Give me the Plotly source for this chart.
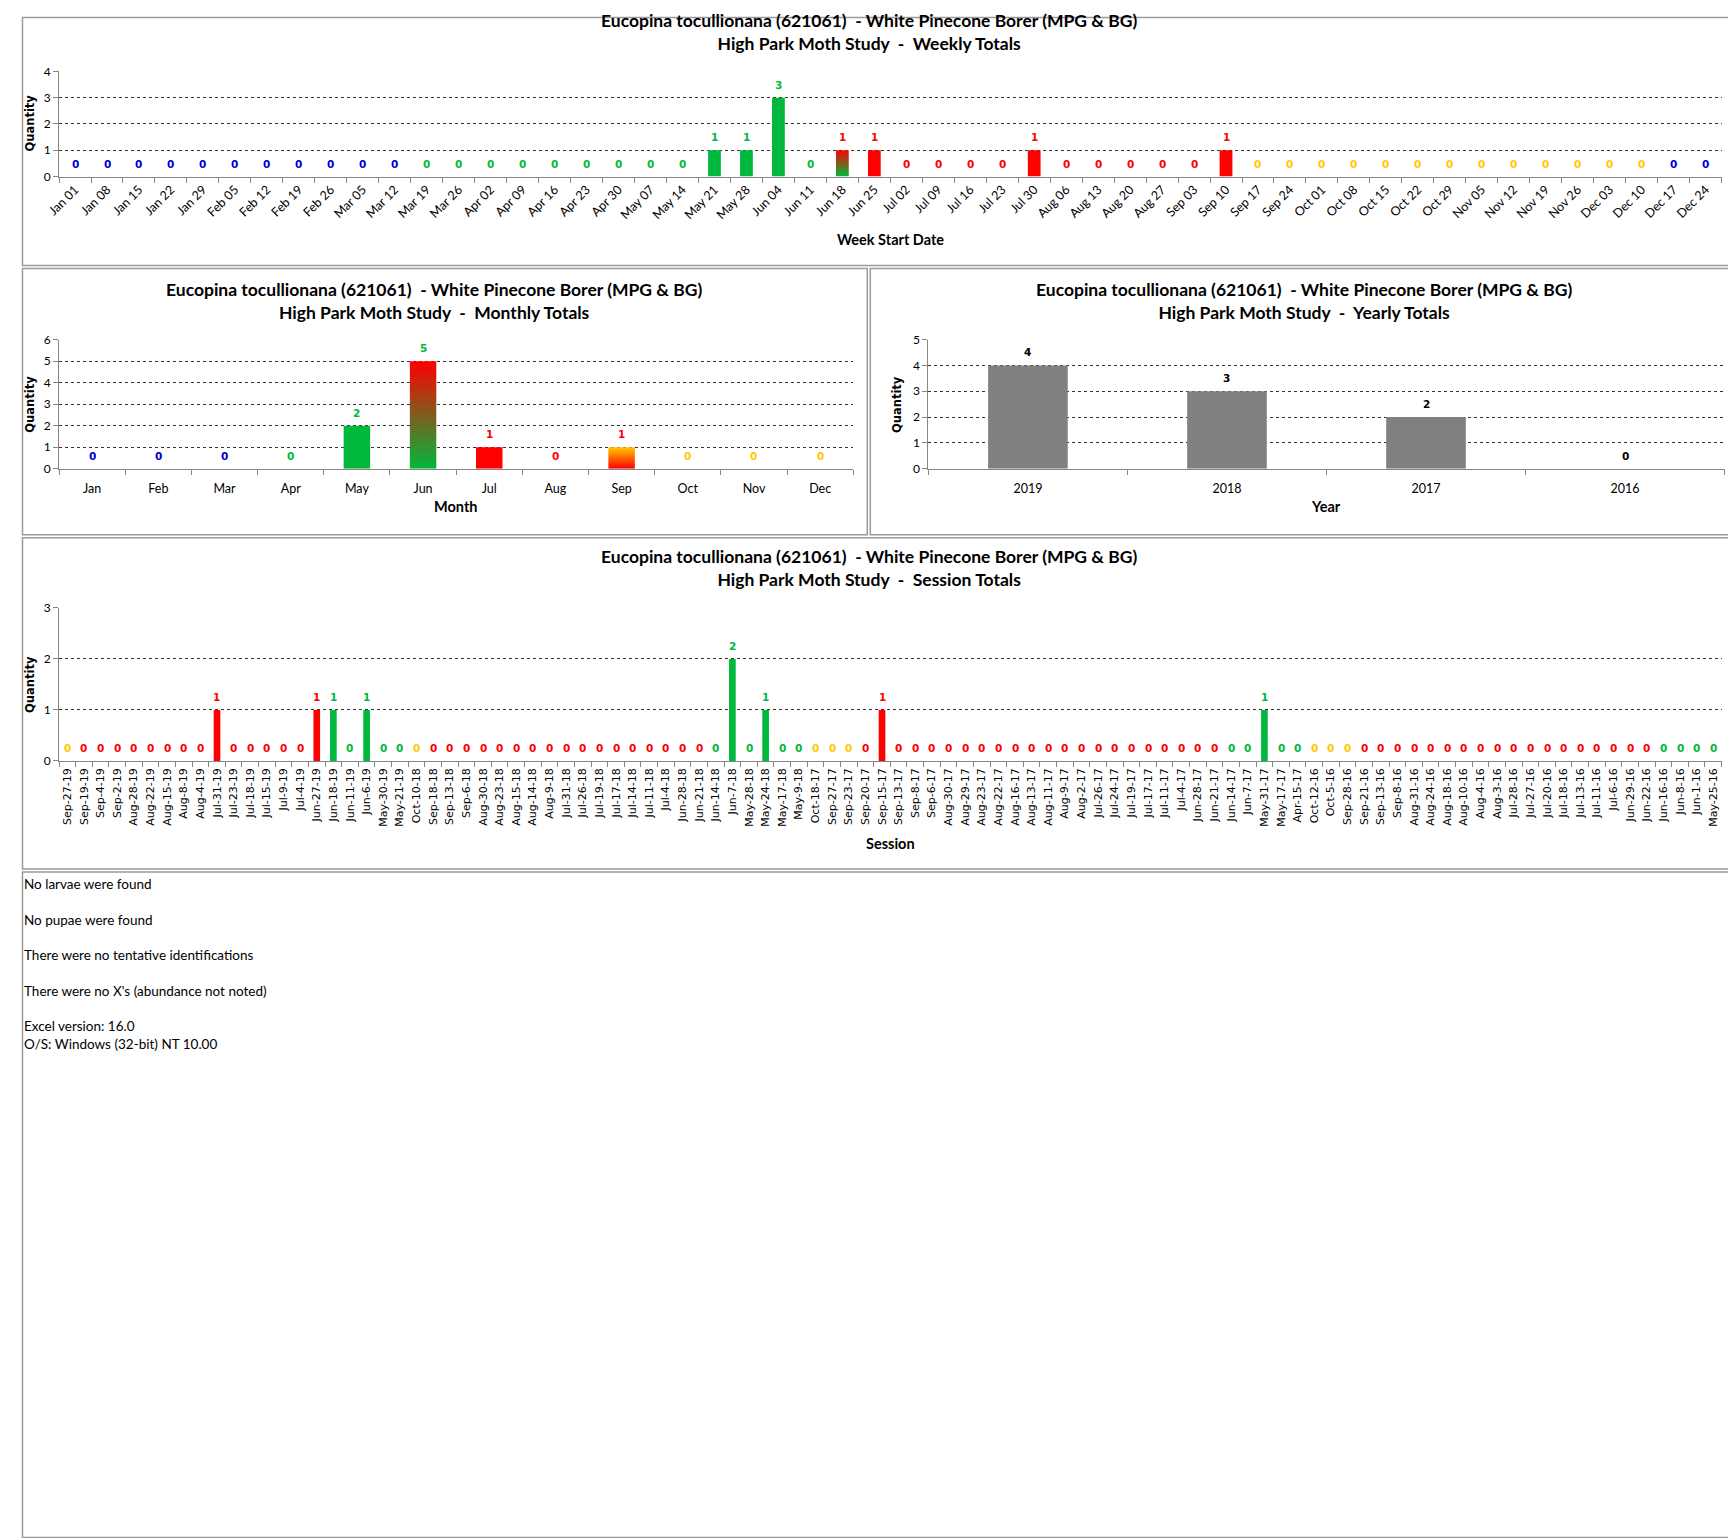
import plotly.graph_objects as go

W, H = 1736, 1538
# the page shows the figure slightly shifted and shrunk; reference pixels are mapped through this
OX, SX = 21.0, 0.991
OY, SY = 16.6, 0.9895

# ---------------- data ----------------
week_labels = ["Jan 01", "Jan 08", "Jan 15", "Jan 22", "Jan 29", "Feb 05", "Feb 12", "Feb 19", "Feb 26",
               "Mar 05", "Mar 12", "Mar 19", "Mar 26", "Apr 02", "Apr 09", "Apr 16", "Apr 23", "Apr 30",
               "May 07", "May 14", "May 21", "May 28", "Jun 04", "Jun 11", "Jun 18", "Jun 25", "Jul 02",
               "Jul 09", "Jul 16", "Jul 23", "Jul 30", "Aug 06", "Aug 13", "Aug 20", "Aug 27", "Sep 03",
               "Sep 10", "Sep 17", "Sep 24", "Oct 01", "Oct 08", "Oct 15", "Oct 22", "Oct 29", "Nov 05",
               "Nov 12", "Nov 19", "Nov 26", "Dec 03", "Dec 10", "Dec 17", "Dec 24"]
week_values = [0, 0, 0, 0, 0, 0, 0, 0, 0, 0, 0, 0, 0, 0, 0, 0, 0, 0, 0, 0,
               1, 1, 3, 0, 1, 1, 0, 0, 0, 0, 1, 0, 0, 0, 0, 0, 1,
               0, 0, 0, 0, 0, 0, 0, 0, 0, 0, 0, 0, 0, 0, 0]
# colour code per week (B blue, G green, R red, Y yellow)
week_codes = "BBBBBBBBBBB" "GGGGGGGGGGGGG" "RRRRRRRRRRRRR" "YYYYYYYYYYYYY" "BB"
week_gradients = {"Jun 18": ("G", "R")}

month_labels = ["Jan", "Feb", "Mar", "Apr", "May", "Jun", "Jul", "Aug", "Sep", "Oct", "Nov", "Dec"]
month_values = [0, 0, 0, 0, 2, 5, 1, 0, 1, 0, 0, 0]
month_codes = "BBBGGGRRRYYY"
month_gradients = {"Jun": ("G", "R"), "Sep": ("R", "Y")}

year_labels = ["2019", "2018", "2017", "2016"]
year_values = [4, 3, 2, 0]
year_codes = "KKKK"

session_labels = [
    "Sep-27-19", "Sep-19-19", "Sep-4-19", "Sep-2-19", "Aug-28-19", "Aug-22-19", "Aug-15-19", "Aug-8-19",
    "Aug-4-19", "Jul-31-19", "Jul-23-19", "Jul-18-19", "Jul-15-19", "Jul-9-19", "Jul-4-19", "Jun-27-19",
    "Jun-18-19", "Jun-11-19", "Jun-6-19", "May-30-19", "May-21-19",
    "Oct-10-18", "Sep-18-18", "Sep-13-18", "Sep-6-18", "Aug-30-18", "Aug-23-18", "Aug-15-18", "Aug-14-18",
    "Aug-9-18", "Jul-31-18", "Jul-26-18", "Jul-19-18", "Jul-17-18", "Jul-14-18", "Jul-11-18", "Jul-4-18",
    "Jun-28-18", "Jun-21-18", "Jun-14-18", "Jun-7-18", "May-28-18", "May-24-18", "May-17-18", "May-9-18",
    "Oct-18-17", "Sep-27-17", "Sep-23-17", "Sep-20-17", "Sep-15-17", "Sep-13-17", "Sep-8-17", "Sep-6-17",
    "Aug-30-17", "Aug-29-17", "Aug-23-17", "Aug-22-17", "Aug-16-17", "Aug-13-17", "Aug-11-17", "Aug-9-17",
    "Aug-2-17", "Jul-26-17", "Jul-24-17", "Jul-19-17", "Jul-17-17", "Jul-11-17", "Jul-4-17", "Jun-28-17",
    "Jun-21-17", "Jun-14-17", "Jun-7-17", "May-31-17", "May-17-17", "Apr-15-17",
    "Oct-12-16", "Oct-5-16", "Sep-28-16", "Sep-21-16", "Sep-13-16", "Sep-8-16", "Aug-31-16", "Aug-24-16",
    "Aug-18-16", "Aug-10-16", "Aug-4-16", "Aug-3-16", "Jul-28-16", "Jul-27-16", "Jul-20-16", "Jul-18-16",
    "Jul-13-16", "Jul-11-16", "Jul-6-16", "Jun-29-16", "Jun-22-16", "Jun-16-16", "Jun-8-16", "Jun-1-16",
    "May-25-16"]
session_values = [
    0, 0, 0, 0, 0, 0, 0, 0, 0, 1, 0, 0, 0, 0, 0, 1, 1, 0, 1, 0, 0,
    0, 0, 0, 0, 0, 0, 0, 0, 0, 0, 0, 0, 0, 0, 0, 0, 0, 0, 0, 2, 0, 1, 0, 0,
    0, 0, 0, 0, 1, 0, 0, 0, 0, 0, 0, 0, 0, 0, 0, 0, 0, 0, 0, 0, 0, 0, 0, 0, 0, 0, 0, 1, 0, 0,
    0, 0, 0, 0, 0, 0, 0, 0, 0, 0, 0, 0, 0, 0, 0, 0, 0, 0, 0, 0, 0, 0, 0, 0, 0]
session_codes = ("Y RRRRR RRRRR RRRRR GGGGG"
                 "Y RRRRR RRRRR RRRRR RR GGGGGG"
                 "YYY RRRRR RRRRR RRRRR RRRRR RR GGGGG"
                 "YYY RRRRR RRRRR RRRRR RRR GGGG").replace(" ", "")

notes = ["No larvae were found", "No pupae were found", "There were no tentative identifications",
         "There were no X's (abundance not noted)", "Excel version: 16.0", "O/S: Windows (32-bit) NT 10.00"]
note_y = [884, 920, 955, 991, 1026, 1044]

title1 = "Eucopina tocullionana (621061)  - White Pinecone Borer (MPG & BG)"

COL = {"B": "#0000CC", "G": "#00B83C", "R": "#FF0000", "Y": "#FFC800", "K": "#000000"}
GRAY = "#868686"
BAR_W = 0.4
TITLE_FONT = "Lato"
LABEL_FONT = "DejaVu Sans"

fig = go.Figure()


def fx(p):
    return (p - OX) / SX / W


def fy(p):
    return 1 - (p - OY) / SY / H


def clampx(p):
    return min(max(fx(p), 1.5 / W), 1 - 1.5 / W)


def clampy(p):
    return min(max(fy(p), 1.5 / H), 1 - 1.5 / H)


def note(x, y, text, font, **kw):
    fig.add_annotation(xref="paper", yref="paper", x=x, y=fy(y), showarrow=False,
                       xanchor=kw.pop("xanchor", "center"), yanchor="middle", text=text, font=font, **kw)


def panel(k, labels, values, codes, gradients, box, ymax, angle, tickfont, ticksize,
          bar_color=None, standoff=0):
    xa = "x" if k == 1 else f"x{k}"
    ya = "y" if k == 1 else f"y{k}"
    n = len(labels)
    idx = list(range(n))
    cols = []
    for lab, c in zip(labels, codes):
        if lab in gradients:
            cols.append("rgba(0,0,0,0)")
        else:
            cols.append(bar_color or COL[c])
    fig.add_trace(go.Bar(x=idx, y=values, width=BAR_W, marker=dict(color=cols, line=dict(width=0)),
                         hovertext=labels, xaxis=xa, yaxis=ya, showlegend=False))
    for i, (lab, v, c) in enumerate(zip(labels, values, codes)):
        if lab in gradients:
            lo, hi = gradients[lab]
            fig.add_trace(go.Scatter(
                x=[i - BAR_W / 2, i + BAR_W / 2, i + BAR_W / 2, i - BAR_W / 2],
                y=[0, 0, v, v], fill="toself", mode="lines", line=dict(width=0),
                fillgradient=dict(type="vertical", colorscale=[[0, COL[lo]], [1, COL[hi]]]),
                xaxis=xa, yaxis=ya, hoverinfo="skip", showlegend=False))
        fig.add_annotation(x=i, y=v, xref=xa, yref=ya, text=str(v), showarrow=False, yshift=13,
                           xanchor="center", yanchor="middle",
                           font=dict(family=LABEL_FONT, size=10.5, color=COL[c], weight="bold"))
    x0, y0, x1, y1 = box
    fig.layout[("xaxis" if k == 1 else f"xaxis{k}")] = dict(
        domain=[fx(x0), fx(x1)], anchor=ya, range=[-0.5, n - 0.5],
        tickmode="array", tickvals=idx, ticktext=labels, ticks="", tickangle=angle,
        tickfont=dict(family=tickfont, size=ticksize, color="black"), ticklabelstandoff=standoff,
        showline=True, linecolor=GRAY, linewidth=1, showgrid=False, zeroline=False,
        minor=dict(tickmode="array", tickvals=[i - 0.5 for i in range(n + 1)], ticks="outside",
                   ticklen=5, tickcolor=GRAY, showgrid=False))
    fig.layout[("yaxis" if k == 1 else f"yaxis{k}")] = dict(
        domain=[fy(y1), fy(y0)], anchor=xa, range=[0, ymax], dtick=1,
        showgrid=True, griddash="dot", gridcolor="#333333", gridwidth=1,
        showline=True, linecolor=GRAY, linewidth=1, ticks="outside", ticklen=5, tickcolor=GRAY,
        tickfont=dict(family=TITLE_FONT, size=12, color="black"), zeroline=False)


def titles(cx, cy, subtitle, qx, qy, xt, xtx, xty):
    note(fx(cx), cy, title1 + "<br>High Park Moth Study  -  " + subtitle,
         dict(family=TITLE_FONT, size=17.5, color="black", weight="bold"))
    left = qx < 100
    note(0 if left else fx(qx), qy, "Quantity",
         dict(family=LABEL_FONT, size=11.5, color="black", weight="bold"),
         textangle=-90, xanchor="left" if left else "center")
    note(fx(xtx), xty, xt, dict(family=TITLE_FONT, size=14.5, color="black", weight="bold"))


panel(1, week_labels, week_values, week_codes, week_gradients, (59, 72, 1719, 177), 4, -45,
      TITLE_FONT, 12.5)
panel(2, month_labels, month_values, month_codes, month_gradients, (59, 340, 852, 469), 6, 0,
      TITLE_FONT, 12.5, standoff=8)
panel(3, year_labels, year_values, year_codes, {}, (927, 340, 1722, 469), 5, 0,
      TITLE_FONT, 12.5, bar_color="#808080", standoff=8)
panel(4, session_labels, session_values, session_codes, {}, (59, 608, 1719, 761), 3, -90,
      LABEL_FONT, 11, standoff=2)

titles(868, 33, "Weekly Totals", 28, 124, "Week Start Date", 889, 240)
titles(433, 301, "Monthly Totals", 28, 405, "Month", 455, 507)
titles(1302, 301, "Yearly Totals", 895, 405, "Year", 1324, 507)
titles(868, 568, "Session Totals", 28, 685, "Session", 889, 843)

for txt, y in zip(notes, note_y):
    note(clampx(10), y, txt, dict(family=TITLE_FONT, size=13.5, color="black"), xanchor="left")

# panel frames (kept inside the drawable page)
for (a, b, c, d) in [(1, 1, 1735, 266), (1, 269, 866, 535), (869, 269, 1735, 535),
                     (1, 538, 1735, 869), (1, 872, 1735, 1537)]:
    fig.add_shape(type="rect", xref="paper", yref="paper", x0=clampx(a), y0=clampy(b),
                  x1=clampx(c), y1=clampy(d), line=dict(color="#9A9A9A", width=1.5), layer="below")

fig.update_layout(width=W, height=H, margin=dict(l=0, r=0, t=0, b=0),
                  paper_bgcolor="white", plot_bgcolor="white", showlegend=False, bargap=0.6)

fig.write_html("out.html")
